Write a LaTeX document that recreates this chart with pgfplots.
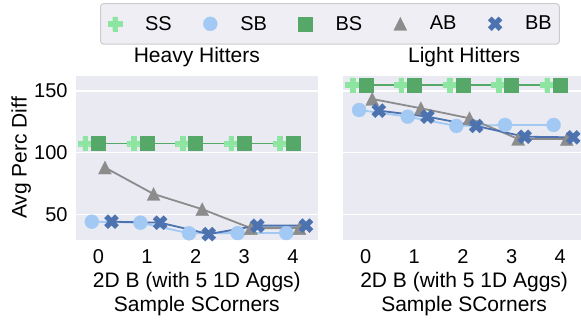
\documentclass[border=0pt]{standalone}
\usepackage{fontspec}
\setmainfont{Liberation Sans}
\usepackage{pgfplots}
\pgfplotsset{compat=1.18}
\definecolor{cSS}{HTML}{8DE5A1}
\definecolor{cSB}{HTML}{A1C9F4}
\definecolor{cBS}{HTML}{55A868}
\definecolor{cAB}{HTML}{8C8C8C}
\definecolor{cBB}{HTML}{4C72B0}
\definecolor{bgc}{HTML}{EAEAF2}
\definecolor{lgbg}{HTML}{EEEEF4}
\definecolor{lgdr}{HTML}{CCCCCC}

\pgfdeclareplotmark{fatplus}{%
  \pgfmathsetlengthmacro\mka{\pgfplotmarksize}%
  \pgfmathsetlengthmacro\mkb{\pgfplotmarksize/3}%
  \pgfpathmoveto{\pgfpoint{-\mkb}{-\mka}}%
  \pgfpathlineto{\pgfpoint{\mkb}{-\mka}}%
  \pgfpathlineto{\pgfpoint{\mkb}{-\mkb}}%
  \pgfpathlineto{\pgfpoint{\mka}{-\mkb}}%
  \pgfpathlineto{\pgfpoint{\mka}{\mkb}}%
  \pgfpathlineto{\pgfpoint{\mkb}{\mkb}}%
  \pgfpathlineto{\pgfpoint{\mkb}{\mka}}%
  \pgfpathlineto{\pgfpoint{-\mkb}{\mka}}%
  \pgfpathlineto{\pgfpoint{-\mkb}{\mkb}}%
  \pgfpathlineto{\pgfpoint{-\mka}{\mkb}}%
  \pgfpathlineto{\pgfpoint{-\mka}{-\mkb}}%
  \pgfpathlineto{\pgfpoint{-\mkb}{-\mkb}}%
  \pgfpathclose
  \pgfusepathqfillstroke
}
\pgfdeclareplotmark{fatx}{%
  \pgfmathsetlengthmacro\mka{\pgfplotmarksize}%
  \pgfmathsetlengthmacro\mkb{\pgfplotmarksize/2}%
  \pgfpathmoveto{\pgfpoint{\mkb}{0pt}}%
  \pgfpathlineto{\pgfpoint{\mka}{\mkb}}%
  \pgfpathlineto{\pgfpoint{\mkb}{\mka}}%
  \pgfpathlineto{\pgfpoint{0pt}{\mkb}}%
  \pgfpathlineto{\pgfpoint{-\mkb}{\mka}}%
  \pgfpathlineto{\pgfpoint{-\mka}{\mkb}}%
  \pgfpathlineto{\pgfpoint{-\mkb}{0pt}}%
  \pgfpathlineto{\pgfpoint{-\mka}{-\mkb}}%
  \pgfpathlineto{\pgfpoint{-\mkb}{-\mka}}%
  \pgfpathlineto{\pgfpoint{0pt}{-\mkb}}%
  \pgfpathlineto{\pgfpoint{\mkb}{-\mka}}%
  \pgfpathlineto{\pgfpoint{\mka}{-\mkb}}%
  \pgfpathclose
  \pgfusepathqfillstroke
}
\pgfdeclareplotmark{mpltri}{%
  \pgfpathmoveto{\pgfpoint{0pt}{\pgfplotmarksize}}%
  \pgfpathlineto{\pgfpoint{-\pgfplotmarksize}{-\pgfplotmarksize}}%
  \pgfpathlineto{\pgfpoint{\pgfplotmarksize}{-\pgfplotmarksize}}%
  \pgfpathclose
  \pgfusepathqfillstroke
}

\pgfplotsset{
  panel/.style={
    scale only axis, width=241.7pt, height=164pt,
    xmin=-0.46, xmax=4.51, ymin=29.4, ymax=162,
    xtick={0,1,2,3,4}, ytick={50,100,150},
    axis background/.style={fill=bgc},
    axis line style={draw=none},
    major tick length=0pt,
    ymajorgrids,
    major grid style={white, line width=1.5pt},
    tick label style={font=\fontsize{20}{24}\selectfont},
    /pgf/number format/assume math mode=true,
    xticklabel style={anchor=base, yshift=-23.5pt, inner sep=0pt},
    yticklabel style={anchor=east, xshift=-8.3pt, inner sep=0pt},
    every axis title/.style={font=\fontsize{21}{25}\selectfont, at={(axis description cs:0.5,1)}, anchor=base, yshift=13.3pt, inner sep=0pt},
    xlabel={2D B (with 5 1D Aggs)\\Sample SCorners},
    every axis x label/.style={at={(axis description cs:0.5,0)}, anchor=north, yshift=-32.4pt, inner sep=0pt, align=center, font=\fontsize{21}{24}\selectfont},
    every axis plot/.append style={line width=1.8pt},
  },
  sSS/.style={color=cSS, mark=fatplus, mark size=7pt, mark options={fill=cSS, line width=0.3pt, sharp corners}},
  sSB/.style={color=cSB, mark=*, mark size=7pt, mark options={fill=cSB, line width=0.3pt, sharp corners}},
  sBS/.style={color=cBS, mark=square*, mark size=7pt, mark options={fill=cBS, line width=0.3pt, sharp corners}},
  sAB/.style={color=cAB, mark=mpltri, mark size=6.5pt, mark options={fill=cAB, line width=0.3pt, sharp corners}},
  sBB/.style={color=cBB, mark=fatx, mark size=7pt, mark options={fill=cBB, line width=0.3pt, sharp corners}},
}

\begin{document}
\begin{tikzpicture}
\begin{axis}[panel,
  at={(76pt,80pt)}, anchor=south west,
  title={Heavy Hitters},
  ylabel={Avg Perc Diff},
  every axis y label/.style={at={(axis description cs:-0.204,0.5)}, rotate=90, anchor=base, inner sep=0pt, font=\fontsize{21}{25}\selectfont},
  legend columns=5,
  legend image code/.code={\draw[#1, only marks] plot coordinates {(0pt,0pt)};},
  legend style={at={(axis description cs:1.0505,1.318)}, anchor=center, fill=lgbg, draw=lgdr, line width=1pt, rounded corners=3pt,
    font=\fontsize{20}{24}\selectfont, inner xsep=7.5pt, inner ysep=12.5pt, nodes={inner sep=0pt},
    /tikz/every odd column/.append style={column sep=23pt},
    /tikz/every even column/.append style={column sep=31.6pt}},
]
\addplot[sSS] coordinates {(-0.27,107.5) (0.73,107.5) (1.73,107.5) (2.73,107.5) (3.73,107.5)};
\addlegendentry{SS}
\addplot[sSB] coordinates {(-0.135,44.2) (0.865,43.4) (1.865,34.8) (2.865,35) (3.865,35)};
\addlegendentry{SB}
\addplot[sBS] coordinates {(0,107.5) (1,107.5) (2,107.5) (3,107.5) (4,107.5)};
\addlegendentry{BS}
\addplot[sAB] coordinates {(0.135,88) (1.135,66.6) (2.135,54.3) (3.135,39) (4.135,39)};
\addlegendentry{AB}
\addplot[sBB] coordinates {(0.27,44.2) (1.27,43.4) (2.27,34.2) (3.27,41) (4.27,41)};
\addlegendentry{BB}
\end{axis}
\begin{axis}[panel,
  at={(343.3pt,80pt)}, anchor=south west,
  title={Light Hitters},
  yticklabels={},
]
\addplot[sSS] coordinates {(-0.27,154.8) (0.73,154.8) (1.73,154.8) (2.73,154.8) (3.73,154.8)};
\addplot[sSB] coordinates {(-0.135,134.5) (0.865,129.1) (1.865,121.6) (2.865,122.4) (3.865,122.4)};
\addplot[sBS] coordinates {(0,154.8) (1,154.8) (2,154.8) (3,154.8) (4,154.8)};
\addplot[sAB] coordinates {(0.135,143.4) (1.135,135.9) (2.135,127.8) (3.135,111.1) (4.135,111)};
\addplot[sBB] coordinates {(0.27,134) (1.27,129.1) (2.27,121.6) (3.27,112.9) (4.27,112.4)};
\end{axis}
\pgfresetboundingbox
\path[use as bounding box] (0pt,0pt) rectangle (581pt,320pt);
\end{tikzpicture}
\end{document}
